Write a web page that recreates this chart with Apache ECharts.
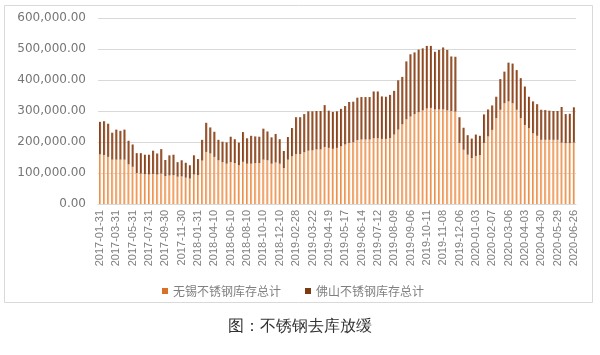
<!DOCTYPE html>
<html><head><meta charset="utf-8">
<script src="https://cdn.jsdelivr.net/npm/echarts@6/dist/echarts.min.js"></script>
<style>html,body{margin:0;padding:0;background:#fff}#c{width:600px;height:355px}</style>
</head><body><div id="c"></div>
<script>
var categories = [
"2017-01-31","2017-02-15","2017-02-28","2017-03-15",
"2017-03-31","2017-04-15","2017-04-30","2017-05-15",
"2017-05-31","2017-06-15","2017-06-30","2017-07-15",
"2017-07-31","2017-08-15","2017-08-31","2017-09-15",
"2017-09-30","2017-10-15","2017-10-31","2017-11-15",
"2017-11-30","2017-12-15","2017-12-31","2018-01-15",
"2018-01-31","2018-02-28","2018-03-20","2018-03-31",
"2018-04-10","2018-04-30","2018-05-10","2018-05-31",
"2018-06-10","2018-06-30","2018-07-10","2018-07-31",
"2018-08-10","2018-08-31","2018-09-10","2018-09-30",
"2018-10-10","2018-10-31","2018-11-10","2018-11-30",
"2018-12-10","2018-12-31","2019-01-10","2019-01-31",
"2019-02-28","2019-03-01","2019-03-08","2019-03-15",
"2019-03-22","2019-03-29","2019-04-04","2019-04-12",
"2019-04-19","2019-04-26","2019-05-03","2019-05-10",
"2019-05-17","2019-05-24","2019-05-31","2019-06-06",
"2019-06-14","2019-06-21","2019-06-28","2019-07-05",
"2019-07-12","2019-07-19","2019-07-26","2019-08-02",
"2019-08-09","2019-08-16","2019-08-23","2019-08-30",
"2019-09-06","2019-09-12","2019-09-20","2019-09-27",
"2019-10-11","2019-10-18","2019-10-25","2019-11-01",
"2019-11-08","2019-11-15","2019-11-22","2019-11-29",
"2019-12-06","2019-12-13","2019-12-20","2019-12-27",
"2020-01-03","2020-01-10","2020-01-17","2020-01-31",
"2020-02-07","2020-02-14","2020-02-21","2020-02-28",
"2020-03-06","2020-03-13","2020-03-20","2020-03-27",
"2020-04-03","2020-04-10","2020-04-17","2020-04-24",
"2020-04-30","2020-05-08","2020-05-15","2020-05-22",
"2020-05-29","2020-06-05","2020-06-12","2020-06-19",
"2020-06-26"];

var wuxi = [
160000,158000,152000,143000,143000,143000,143000,128000,120000,100000,
98000,96000,95000,97000,95000,98000,90000,92000,93000,88000,
89000,85000,82000,95000,93000,140000,168000,163000,152000,141000,
135000,130000,135000,132000,125000,136000,130000,130000,132000,132000,
143000,141000,130000,134000,130000,116000,143000,154000,161000,161000,
167000,172000,173000,176000,176000,184000,181000,178000,181000,186000,
192000,197000,199000,206000,208000,208000,208000,212000,212000,210000,
210000,213000,224000,240000,257000,273000,282000,290000,296000,302000,
308000,310000,305000,305000,305000,302000,300000,298000,197000,175000,
159000,148000,155000,158000,197000,218000,239000,277000,304000,325000,
331000,325000,304000,277000,255000,245000,228000,220000,207000,207000,
207000,207000,207000,198000,196000,196000,198000];

var foshan = [
105000,109000,107000,87000,97000,93000,97000,76000,72000,64000,
66000,63000,64000,75000,68000,79000,52000,65000,66000,47000,
52000,48000,43000,62000,52000,67000,94000,84000,81000,66000,
66000,69000,82000,77000,73000,96000,82000,90000,86000,85000,
100000,93000,85000,92000,79000,55000,73000,91000,119000,119000,
123000,127000,126000,124000,124000,135000,120000,119000,118000,121000,
124000,132000,131000,137000,137000,137000,137000,151000,151000,137000,
136000,139000,141000,159000,153000,187000,201000,199000,202000,200000,
202000,200000,186000,192000,200000,195000,176000,177000,83000,71000,
63000,63000,69000,62000,92000,87000,79000,69000,99000,102000,
125000,128000,128000,129000,124000,101000,103000,102000,97000,96000,
94000,93000,93000,115000,94000,95000,114000];

var seriesNames = ["无锡不锈钢库存总计","佛山不锈钢库存总计"];
var yTicks = [0,100000,200000,300000,400000,500000,600000];

function fmt(v){
  var s = v.toFixed(2); var p = s.split(".");
  p[0] = p[0].replace(/\B(?=(\d{3})+(?!\d))/g, ",");
  return p.join(".");
}

var chart = echarts.init(document.getElementById('c'), null, {renderer:'canvas'});
chart.setOption({
  animation:false,
  backgroundColor:'#fff',
  title:{text:'图：不锈钢去库放缓', left:'center', top:314,
    textStyle:{fontSize:16, fontWeight:'normal', color:'#333', fontFamily:'serif'}},
  graphic:[{type:'rect', shape:{x:4.5,y:5.5,width:588,height:297},
    style:{fill:'none', stroke:'#d9d9d9', lineWidth:1}, silent:true}],
  legend:{data:[
      {name:seriesNames[0], itemStyle:{color:'#D9702A'}},
      {name:seriesNames[1], itemStyle:{color:'#7B3A12'}}],
    left:157, top:280, icon:'rect', itemWidth:6, itemHeight:6,
    itemGap:24, textStyle:{fontSize:12, color:'#7f7f7f', fontFamily:'Noto Sans CJK SC'}},
  grid:{left:98, right:24, top:18, bottom:151, containLabel:false},
  xAxis:{type:'category', data:categories,
    axisLine:{lineStyle:{color:'#d9d9d9'}}, axisTick:{show:false},
    axisLabel:{interval:3, rotate:90, color:'#7f7f7f', fontSize:11, margin:6,
      fontFamily:'Liberation Sans'}},
  yAxis:{type:'value', min:yTicks[0], max:yTicks[yTicks.length-1], interval:100000,
    axisLine:{show:false}, axisTick:{show:false},
    splitLine:{lineStyle:{color:'#d9d9d9', width:1}},
    axisLabel:{formatter:fmt, color:'#767676', fontSize:12, margin:12, fontFamily:'DejaVu Sans'}},
  series:[
    {name:seriesNames[0], type:'bar', stack:'s', data:wuxi, barCategoryGap:'48%',
     itemStyle:{color:new echarts.graphic.LinearGradient(0,0,1,0,[{offset:0,color:'#E57A2C'},{offset:1,color:'#FAD2B0'}])}},
    {name:seriesNames[1], type:'bar', stack:'s', data:foshan, barCategoryGap:'48%',
     itemStyle:{color:new echarts.graphic.LinearGradient(0,0,1,0,[{offset:0,color:'#7A3510'},{offset:1,color:'#AD6E46'}])}}
  ]
});
</script></body></html>
